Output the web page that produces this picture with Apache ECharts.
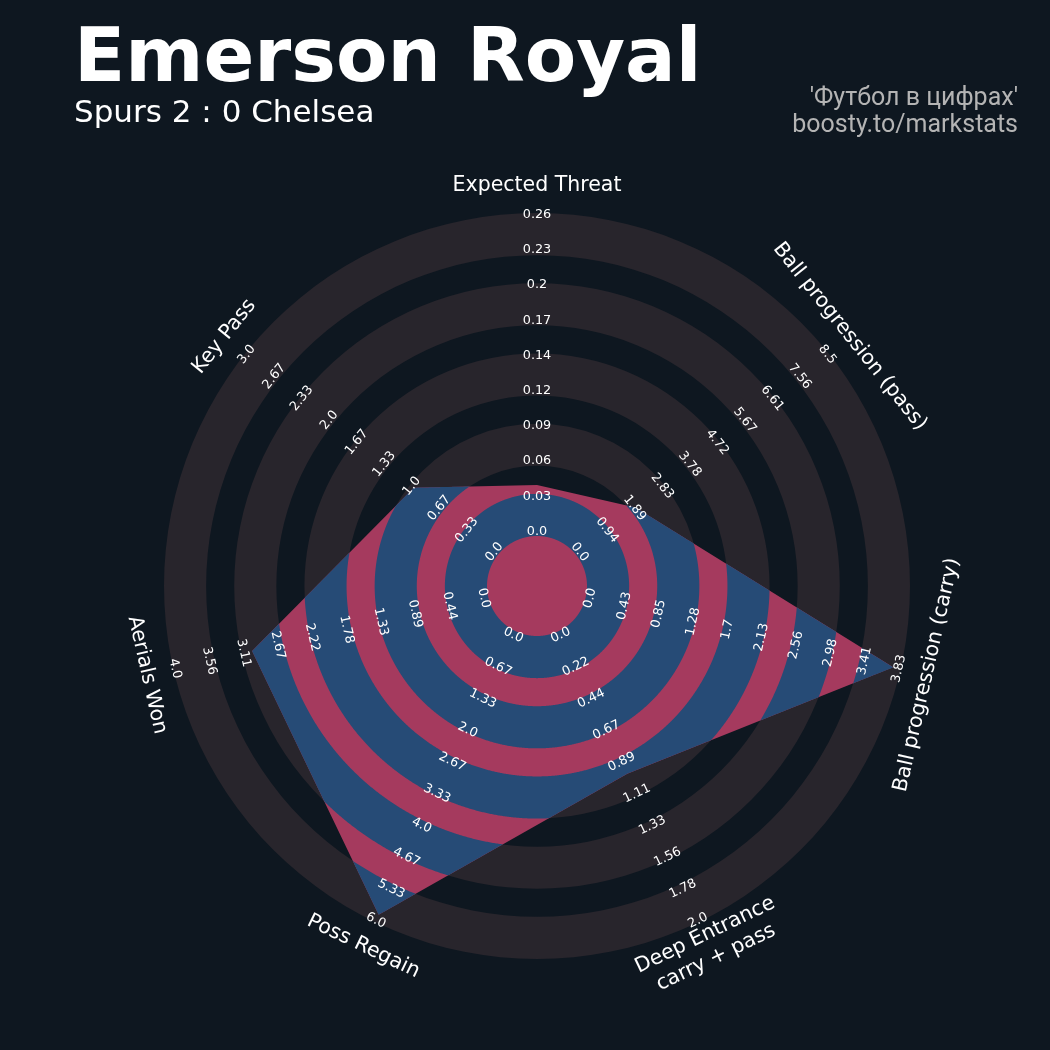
<!DOCTYPE html>
<html>
<head>
<meta charset="utf-8">
<script src="https://cdn.jsdelivr.net/npm/echarts@6/dist/echarts.min.js"></script>
<style>
html,body{margin:0;padding:0;background:#0e1720;}
#chart{width:1050px;height:1050px;}
</style>
</head>
<body>
<div id="chart"></div>
<script>
// ---------------- data ----------------
const params = ['Expected Threat', 'Ball progression (pass)', 'Ball progression (carry)',
  'Deep Entrance\ncarry + pass', 'Poss Regain', 'Aerials Won', 'Key Pass'];
const minRange = [0, 0, 0, 0, 0, 0, 0];
const maxRange = [0.26, 8.5, 3.83, 2.0, 6.0, 4.0, 3.0];
const values = [0.041, 2.0, 3.74, 0.98, 5.85, 3.0, 1.0];
const tickXT = ['0.0','0.03','0.06','0.09','0.12','0.14','0.17','0.2','0.23','0.26'];
const tickPass = ['0.0','0.94','1.89','2.83','3.78','4.72','5.67','6.61','7.56','8.5'];
const tickCarry = ['0.0','0.43','0.85','1.28','1.7','2.13','2.56','2.98','3.41','3.83'];
const tickDeep = ['0.0','0.22','0.44','0.67','0.89','1.11','1.33','1.56','1.78','2.0'];
const tickRegain = ['0.0','0.67','1.33','2.0','2.67','3.33','4.0','4.67','5.33','6.0'];
const tickAerial = ['0.0','0.44','0.89','1.33','1.78','2.22','2.67','3.11','3.56','4.0'];
const tickKey = ['0.0','0.33','0.67','1.0','1.33','1.67','2.0','2.33','2.67','3.0'];
const tickLabels = [tickXT, tickPass, tickCarry, tickDeep, tickRegain, tickAerial, tickKey];
const titleText = 'Emerson Royal';
const subtitleText = 'Spurs 2 : 0 Chelsea';
const creditLines = ["'Футбол в цифрах'", 'boosty.to/markstats'];

// ---------------- layout / style ----------------
const BG = '#0e1720', RING = '#28252c', PINK = '#a53a5e', BLUE = '#264b76';
const CENTER_R = 50, OUTER_R = 373, SPAN = OUTER_R - CENTER_R;
const PERIOD = SPAN / 4.6, BAND = PERIOD * 0.6;
const bands = [];
for (let k = 0; k < 5; k++) bands.push([CENTER_R + k * PERIOD, CENTER_R + k * PERIOD + BAND]);
const LABEL_R0 = 54.5, LABEL_STEP = 35.2, PARAM_R = 400;
const N = params.length, STEP = 360 / N;
const angles = params.map((_, i) => i * STEP);
const radii = values.map((v, i) => CENTER_R + (v - minRange[i]) / (maxRange[i] - minRange[i]) * SPAN);
const rad = d => d * Math.PI / 180;

function rho(theta) {
  const t = ((theta % 360) + 360) % 360;
  let i = Math.floor(t / STEP); if (i >= N) i = N - 1;
  const j = (i + 1) % N;
  const A = [radii[i] * Math.sin(rad(angles[i])), radii[i] * Math.cos(rad(angles[i]))];
  const B = [radii[j] * Math.sin(rad(angles[j])), radii[j] * Math.cos(rad(angles[j]))];
  const d = [Math.sin(rad(t)), Math.cos(rad(t))];
  const cAB = A[0] * B[1] - A[1] * B[0];
  const BA = [B[0] - A[0], B[1] - A[1]];
  const cd = d[0] * BA[1] - d[1] * BA[0];
  return cAB / cd;
}
let samples = [];
for (let k = 0; k <= 1440; k++) samples.push(k * 0.25);
angles.forEach(a => samples.push(a));
samples = Array.from(new Set(samples.map(s => +s.toFixed(6)))).sort((a, b) => a - b);

function labelRot(theta) {
  let r = -theta;
  if (theta > 90 && theta < 270) r += 180;
  return rad(r);
}
const dist = (a, b) => Math.hypot(a[0] - b[0], a[1] - b[1]);

const chart = echarts.init(document.getElementById('chart'), null, {renderer: 'canvas'});

const ringSeries = {
  type: 'custom', coordinateSystem: 'polar', silent: true,
  data: [[0, 0]],
  renderItem: function (p, api) {
    const c = api.coord([0, 0]);
    return {
      type: 'group',
      children: bands.map(b => ({
        type: 'ring',
        shape: {cx: c[0], cy: c[1], r: dist(c, api.coord([b[1], 0])), r0: dist(c, api.coord([b[0], 0]))},
        style: {fill: RING}
      }))
    };
  }
};

const radarSeries = {
  type: 'custom', coordinateSystem: 'polar', silent: true,
  data: radii.map((r, i) => [r, angles[i]]),
  renderItem: function (p, api) {
    if (p.dataIndex !== 0) return null;
    const pts = radii.map((r, i) => api.coord([r, angles[i]]));
    const children = [{type: 'polygon', shape: {points: pts}, style: {fill: PINK}}];
    bands.forEach(b => {
      let d = '';
      samples.forEach((t, idx) => {
        const r = Math.max(b[0], Math.min(b[1], rho(t)));
        const q = api.coord([r, t]);
        d += (idx === 0 ? 'M' : 'L') + q[0].toFixed(2) + ' ' + q[1].toFixed(2) + ' ';
      });
      d += 'Z ';
      for (let idx = samples.length - 1; idx >= 0; idx--) {
        const q = api.coord([b[0], samples[idx]]);
        d += (idx === samples.length - 1 ? 'M' : 'L') + q[0].toFixed(2) + ' ' + q[1].toFixed(2) + ' ';
      }
      d += 'Z';
      children.push({type: 'path', shape: {pathData: d}, style: {fill: BLUE}});
    });
    return {type: 'group', children: children};
  }
};

const tickData = [];
tickLabels.forEach((arr, i) => arr.forEach((t, k) => tickData.push([LABEL_R0 + k * LABEL_STEP, angles[i], i, k])));
const tickSeries = {
  type: 'custom', coordinateSystem: 'polar', silent: true,
  data: tickData,
  renderItem: function (p, api) {
    const i = api.value(2), k = api.value(3);
    const q = api.coord([LABEL_R0 + k * LABEL_STEP, angles[i]]);
    return {
      type: 'text', x: q[0], y: q[1], rotation: labelRot(angles[i]),
      style: {text: tickLabels[i][k], fill: '#ffffff', font: '12.8px "DejaVu Sans"', align: 'center', verticalAlign: 'middle'}
    };
  }
};

const paramSeries = {
  type: 'custom', coordinateSystem: 'polar', silent: true,
  data: params.map((_, i) => [PARAM_R, angles[i]]),
  renderItem: function (p, api) {
    const i = p.dataIndex;
    const q = api.coord([PARAM_R, angles[i]]);
    return {
      type: 'text', x: q[0], y: q[1], rotation: labelRot(angles[i]),
      style: {text: params[i], fill: '#ffffff', font: '20.5px "DejaVu Sans"', align: 'center', verticalAlign: 'middle', lineHeight: 25}
    };
  }
};

chart.setOption({
  backgroundColor: BG,
  animation: false,
  polar: {center: [537, 586], radius: 420},
  angleAxis: {type: 'value', min: 0, max: 360, startAngle: 90, clockwise: true, show: false,
    axisLine: {show: false}, axisTick: {show: false}, axisLabel: {show: false}, splitLine: {show: false}},
  radiusAxis: {type: 'value', min: 0, max: 420, show: false,
    axisLine: {show: false}, axisTick: {show: false}, axisLabel: {show: false}, splitLine: {show: false}},
  graphic: {elements: [
    {type: 'text', x: 74, y: 62, style: {text: titleText, fill: '#ffffff', font: 'bold 75px "DejaVu Sans"', align: 'left', verticalAlign: 'middle'}},
    {type: 'text', x: 74, y: 114, style: {text: subtitleText, fill: '#ffffff', font: '31px "DejaVu Sans"', align: 'left', verticalAlign: 'middle'}},
    {type: 'text', x: 1018, y: 98.8, style: {text: creditLines[0], fill: '#b4b4b4', font: '25px Roboto', align: 'right', verticalAlign: 'middle'}},
    {type: 'text', x: 1018, y: 126.2, style: {text: creditLines[1], fill: '#b4b4b4', font: '25px Roboto', align: 'right', verticalAlign: 'middle'}}
  ]},
  series: [ringSeries, radarSeries, tickSeries, paramSeries]
});
</script>
</body>
</html>
